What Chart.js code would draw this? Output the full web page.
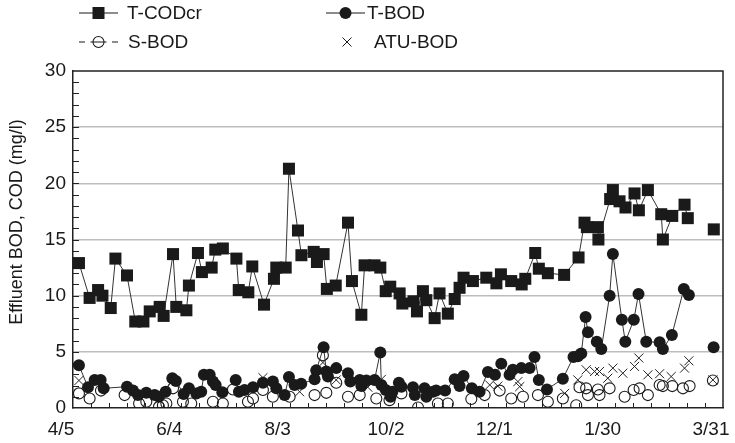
<!DOCTYPE html>
<html>
<head>
<meta charset="utf-8">
<script src="https://cdn.jsdelivr.net/npm/chart.js@4.4.1/dist/chart.umd.min.js"></script>
<style>
  html, body { margin: 0; padding: 0; background: #fff; }
</style>
</head>
<body>
<canvas id="effluentChart" width="735" height="443"></canvas>
<script>
// x values are days counted from 4/5
const xTickDays = [0, 60, 120, 180, 240, 300, 360];
const xTickLabels = ['4/5', '6/4', '8/3', '10/2', '12/1', '1/30', '3/31'];

const codDays = [3.3, 9.2, 13.9, 16.3, 20.9, 23.5, 29.9, 34.5, 39.0, 42.5, 48.0, 50.2, 55.4, 57.2, 62.8, 64.2,
  69.2, 71.4, 76.8, 78.8, 83.0, 90.5, 91.8, 97.1, 99.3, 105.8, 111.3, 112.6, 117.8, 119.6, 124.6, 126.5,
  133.3, 135.1, 138.8, 140.6, 145.5, 152.3, 154.5, 159.7, 161.5, 167.0, 170.2, 173.2, 175.7, 180.9, 182.4,
  188.6, 190.5, 193.8, 195.7, 200.3, 203.0, 207.6, 211.4, 214.1, 216.3, 221.5, 228.9, 234.5, 237.0, 242.7,
  248.5, 250.5, 256.0, 258.0, 263.0, 272.0, 280.0, 283.3, 284.6, 290.7, 291.0, 297.5, 299.0, 302.7, 306.0,
  311.0, 313.4, 318.4, 325.8, 326.7, 331.9, 338.7, 340.5, 348.0, 354.9];
const codValues = [12.9, 9.8, 10.5, 10.0, 8.9, 13.3, 11.8, 7.7, 7.7, 8.6, 9.0, 8.2, 13.7, 9.0, 8.7, 10.9,
  13.8, 12.1, 12.5, 14.1, 14.2, 13.3, 10.5, 10.3, 12.6, 9.2, 11.5, 12.5, 12.5, 21.3, 15.8, 13.6,
  13.9, 13.0, 13.7, 10.6, 10.9, 16.5, 11.3, 8.3, 12.7, 12.7, 12.5, 10.4, 10.8, 10.2, 9.3,
  9.5, 8.6, 10.4, 9.6, 8.0, 10.2, 8.4, 9.7, 10.7, 11.6, 11.3, 11.6, 11.1, 11.9, 11.3,
  11.0, 11.5, 13.8, 12.4, 12.0, 11.85, 13.4, 16.5, 16.1, 16.1, 15.0, 18.6, 19.4, 18.4, 17.85,
  19.1, 17.6, 19.4, 17.25, 15.0, 17.1, 18.1, 16.9, null, 15.9];

const tbodDays = [3.3, 8.3, 12.0, 15.3, 17.0, 29.9, 33.2, 36.0, 40.6, 45.2, 47.6, 51.3, 55.0, 57.0, 61.3, 64.2,
  68.3, 71.0, 72.5, 75.7, 77.5, 79.0, 82.7, 90.1, 91.9, 95.0, 99.7, 105.2, 110.7, 112.6, 117.2, 119.6,
  122.7, 126.4, 133.8, 134.7, 138.8, 140.3, 141.2, 145.8, 152.3, 153.6, 158.8, 159.7, 162.5, 167.0, 170.2,
  170.8, 173.2, 175.9, 176.9, 180.5, 181.9, 188.3, 189.3, 194.7, 195.7, 199.4, 201.1, 206.1, 211.4, 214.1,
  216.3, 220.9, 225.2, 229.8, 233.7, 237.2, 241.8, 243.6, 248.3, 252.9, 255.6, 258.0, 262.5, 271.3, 277.2,
  279.6, 281.5, 283.9, 285.2, 290.1, 292.6, 297.2, 299.0, 304.0, 305.9, 310.6, 313.2, 317.5, 324.9, 326.7,
  331.7, 338.3, 341.1, 348.0, 354.8];
const tbodValues = [3.8, 1.85, 2.5, 2.5, 1.75, 1.9, 1.55, 1.15, 1.35, 1.15, 1.0, 1.45, 2.65, 2.4, 1.25, 1.75,
  1.3, 1.45, 2.95, 2.95, 2.35, 2.05, 1.4, 2.5, 1.45, 1.6, 1.85, 2.25, 2.35, 1.75, 1.15, 2.75,
  2.05, 2.15, 2.55, 3.35, 5.4, 3.25, 2.8, 3.55, 3.1, 2.35, 2.5, 1.95, 2.45, 2.5, 4.95,
  2.05, 1.6, 1.0, 1.45, 2.25, 1.9, 1.85, 1.15, 1.75, 1.0, 1.45, 1.55, 1.55, 2.55, 1.95,
  2.85, 1.75, 1.45, 3.2, 2.95, 3.95, 2.95, 3.4, 3.55, 3.55, 4.55, 2.5, 1.65, 2.6, 4.55,
  4.6, 4.85, 8.1, 6.75, 5.9, 5.25, 10.0, 13.7, 7.85, 5.9, 7.85, 10.15, 5.9, 5.85, 5.25,
  6.5, 10.6, 10.05, null, 5.4];

const sbodDays = [3.3, 9.2, 15.5, 28.6, 36.6, 40.6, 47.6, 49.8, 51.7, 55.4, 60.9, 65.5, 77.5, 83.0, 88.6, 96.9,
  99.7, 105.2, 110.7, 120.0, 133.8, 138.4, 140.3, 145.8, 152.3, 158.8, 168.0, 175.3, 181.9, 191.1, 202.1,
  207.6, 220.6, 228.0, 236.3, 242.7, 249.2, 257.5, 263.0, 271.3, 278.7, 280.5, 284.2, 285.2, 290.7, 291.6,
  297.2, 305.5, 310.5, 313.8, 318.4, 324.9, 326.7, 331.9, 337.8, 341.5, 354.4];
const sbodValues = [1.3, 0.85, 1.55, 1.15, 0.4, 0.55, 0.1, 0.25, 0.4, 1.75, 0.55, 0.4, 0.55, 0.4, 1.65, 0.55,
  0.85, 1.6, 1.0, 1.0, 1.15, 4.7, 1.35, 2.25, 1.0, 1.15, 0.85, 0.7, 1.3, 0.05, 0.4,
  0.4, 0.8, 1.15, 1.55, 0.85, 1.0, 1.15, 0.55, 0.85, 0.25, 1.85, 1.75, 1.15, 1.65, 1.15,
  1.75, 1.0, 1.6, 1.75, 1.15, 2.05, 1.95, 1.95, 1.75, 1.95, 2.45];

const atuDays = [3.3, 105.2, 125.5, 138.4, 145.8, 163.3, 170.8, 230.8, 235.3, 246.4, 247.4, 272.3, 279.6, 284.2,
  288.9, 291.6, 296.2, 299.0, 304.5, 311.0, 313.4, 318.4, 324.9, 331.3, 338.7, 341.1, 354.4];
const atuValues = [2.45, 2.7, 1.45, 4.05, 2.5, 1.85, 2.55, 2.05, 1.95, 2.35, 1.9, 1.3, 2.5, 3.4,
  3.25, 3.25, 2.65, 3.55, 3.1, 3.7, 4.45, 2.95, 3.05, 2.8, 3.55, 4.2, 2.5];

const FONT = "'Liberation Sans', Arial, Helvetica, sans-serif";
const INK = '#1a1a1a';

function toPoints(days, values) {
  return days.map((d, i) => ({ x: d, y: values[i] }));
}

// inward tick marks plus the closed top/right frame
const frameTicks = {
  id: 'frameTicks',
  beforeDatasetsDraw(chart) {
    const { ctx, chartArea: a, scales: { x, y } } = chart;
    ctx.save();
    ctx.strokeStyle = '#222';
    ctx.lineWidth = 1;
    ctx.beginPath();
    y.ticks.forEach(t => {
      if (t.value <= 0 || t.value >= 30) return;
      const py = Math.round(y.getPixelForValue(t.value)) + 0.5;
      ctx.moveTo(a.left, py);
      ctx.lineTo(a.left + 6, py);
    });
    x.ticks.forEach(t => {
      if (t.value <= 0 || t.value >= 360) return;
      const px = Math.round(x.getPixelForValue(t.value)) + 0.5;
      ctx.moveTo(px, a.bottom);
      ctx.lineTo(px, a.bottom - 5);
    });
    ctx.stroke();
    ctx.lineWidth = 1.5;
    ctx.beginPath();
    ctx.moveTo(a.left, a.top);
    ctx.lineTo(a.right, a.top);
    ctx.lineTo(a.right, a.bottom);
    ctx.stroke();
    ctx.restore();
  }
};

// rotated y title, sits a bit above the plot centre
const yTitle = {
  id: 'yTitle',
  afterDraw(chart) {
    const ctx = chart.ctx;
    ctx.save();
    ctx.translate(17, 222);
    ctx.rotate(-Math.PI / 2);
    ctx.font = '18px ' + FONT;
    ctx.fillStyle = INK;
    ctx.textAlign = 'center';
    ctx.textBaseline = 'middle';
    ctx.fillText('Effluent BOD, COD (mg/l)', 0, 0);
    ctx.restore();
  }
};

function markAt(ctx, kind, x, y) {
  ctx.beginPath();
  if (kind === 'square') {
    ctx.fillStyle = INK;
    ctx.fillRect(x - 6, y - 6, 12, 12);
  } else if (kind === 'dot') {
    ctx.fillStyle = INK;
    ctx.arc(x, y, 6, 0, Math.PI * 2);
    ctx.fill();
  } else if (kind === 'ring') {
    ctx.lineWidth = 1.1;
    ctx.arc(x, y, 5.5, 0, Math.PI * 2);
    ctx.stroke();
  } else if (kind === 'cross') {
    ctx.lineWidth = 1;
    ctx.moveTo(x - 4.5, y - 4.5); ctx.lineTo(x + 4.5, y + 4.5);
    ctx.moveTo(x + 4.5, y - 4.5); ctx.lineTo(x - 4.5, y + 4.5);
    ctx.stroke();
  }
}

// two-column legend above the plot
const legendGrid = {
  id: 'legendGrid',
  afterDraw(chart) {
    const ctx = chart.ctx;
    const items = [
      { label: 'T-CODcr', kind: 'square', line: 'solid', x0: 79, x1: 118, y: 13, tx: 127 },
      { label: 'T-BOD', kind: 'dot', line: 'solid', x0: 326, x1: 365, y: 13, tx: 367 },
      { label: 'S-BOD', kind: 'ring', line: 'dash', x0: 79, x1: 118, y: 42, tx: 128 },
      { label: 'ATU-BOD', kind: 'cross', line: 'none', x0: 326, x1: 365, y: 42, tx: 374 }
    ];
    ctx.save();
    ctx.strokeStyle = INK;
    items.forEach(it => {
      const cx = it.kind === 'cross' ? 347 : (it.x0 + it.x1) / 2;
      if (it.line === 'solid') {
        ctx.lineWidth = 1.2;
        ctx.beginPath();
        ctx.moveTo(it.x0, it.y); ctx.lineTo(it.x1, it.y);
        ctx.stroke();
      } else if (it.line === 'dash') {
        ctx.lineWidth = 1.2;
        ctx.beginPath();
        ctx.moveTo(it.x0, it.y); ctx.lineTo(it.x0 + 6, it.y);
        ctx.moveTo(cx - 8, it.y); ctx.lineTo(cx + 8, it.y);
        ctx.moveTo(it.x1 - 6, it.y); ctx.lineTo(it.x1, it.y);
        ctx.stroke();
      }
      markAt(ctx, it.kind, cx, it.y);
      ctx.font = '19px ' + FONT;
      ctx.fillStyle = INK;
      ctx.textAlign = 'left';
      ctx.textBaseline = 'middle';
      ctx.fillText(it.label, it.tx, it.y + 1);
    });
    ctx.restore();
  }
};

new Chart(document.getElementById('effluentChart'), {
  type: 'scatter',
  data: {
    datasets: [
      {
        label: 'T-CODcr',
        data: toPoints(codDays, codValues),
        showLine: true,
        spanGaps: false,
        borderColor: '#333',
        borderWidth: 1,
        pointStyle: 'rect',
        pointRadius: 8.5,
        pointBackgroundColor: INK,
        pointBorderColor: INK,
        pointBorderWidth: 0
      },
      {
        label: 'T-BOD',
        data: toPoints(tbodDays, tbodValues),
        showLine: true,
        spanGaps: false,
        borderColor: '#333',
        borderWidth: 1,
        pointStyle: 'circle',
        pointRadius: 6,
        pointBackgroundColor: INK,
        pointBorderColor: INK,
        pointBorderWidth: 0
      },
      {
        label: 'S-BOD',
        data: toPoints(sbodDays, sbodValues),
        showLine: false,
        pointStyle: 'circle',
        pointRadius: 5.5,
        pointBackgroundColor: 'rgba(255,255,255,0)',
        pointBorderColor: INK,
        pointBorderWidth: 1.1
      },
      {
        label: 'ATU-BOD',
        data: toPoints(atuDays, atuValues),
        showLine: false,
        pointStyle: 'crossRot',
        pointRadius: 6.4,
        pointBorderColor: '#222',
        pointBorderWidth: 1
      }
    ]
  },
  options: {
    responsive: false,
    animation: false,
    devicePixelRatio: 1,
    layout: { padding: { top: 71, right: 12, bottom: 0, left: 0 } },
    plugins: {
      legend: { display: false },
      tooltip: { enabled: false }
    },
    scales: {
      x: {
        type: 'linear',
        min: 0,
        max: 360,
        afterFit(scale) { scale.height = 35; scale.paddingLeft = 0; scale.paddingRight = 0; },
        ticks: {
          stepSize: 10,
          autoSkip: false,
          maxRotation: 0,
          labelOffset: -12,
          padding: 10,
          color: INK,
          font: { family: FONT, size: 19 },
          callback(v) {
            const k = xTickDays.indexOf(v);
            return k >= 0 ? xTickLabels[k] : '';
          }
        },
        grid: { display: false, drawTicks: false },
        border: { display: true, color: '#222', width: 1.5 }
      },
      y: {
        min: 0,
        max: 30,
        afterFit(scale) { scale.width = 73; scale.paddingTop = 0; scale.paddingBottom = 0; },
        ticks: {
          stepSize: 1,
          autoSkip: false,
          padding: 7,
          color: INK,
          font: { family: FONT, size: 19 },
          callback(v) { return v % 5 === 0 ? String(v) : ''; }
        },
        grid: {
          drawTicks: false,
          lineWidth: 1.5,
          color(c) {
            const v = c.tick ? c.tick.value : 0;
            return (v % 5 === 0 && v > 0 && v < 30) ? '#bdbdbd' : 'rgba(0,0,0,0)';
          }
        },
        border: { display: true, color: '#222', width: 1.5 }
      }
    }
  },
  plugins: [frameTicks, yTitle, legendGrid]
});
</script>
</body>
</html>
